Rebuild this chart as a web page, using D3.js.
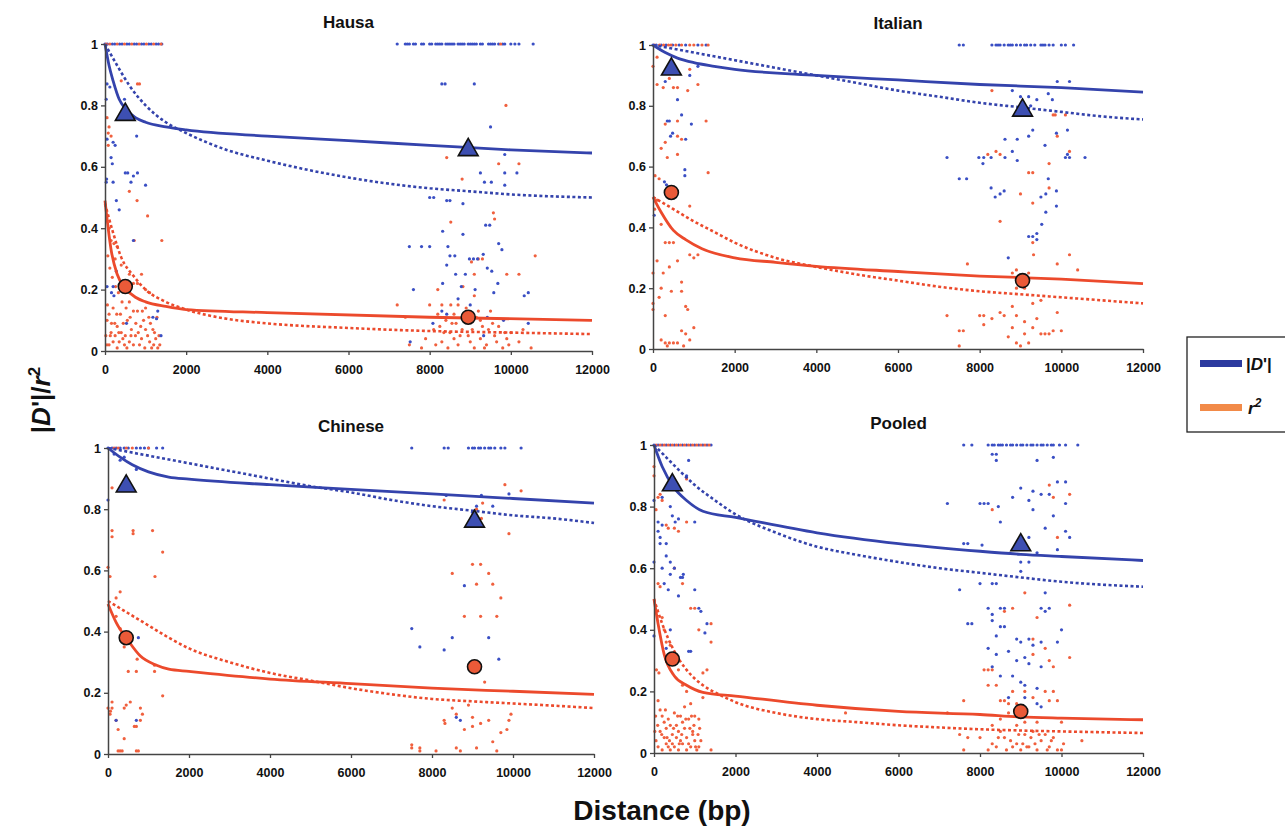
<!DOCTYPE html>
<html>
<head>
<meta charset="utf-8">
<script src="https://cdn.jsdelivr.net/npm/d3@7/dist/d3.min.js"></script>
<style>
  body { margin: 0; background: #fff; }
  svg { font-family: "Liberation Sans", Arial, sans-serif; }
</style>
</head>
<body>
<svg width="1285" height="830"></svg>
<script>
const distTicks = [0, 2000, 4000, 6000, 8000, 10000, 12000];
const ldTicks = [0, 0.2, 0.4, 0.6, 0.8, 1];
const panelNames = ["Hausa", "Italian", "Chinese", "Pooled"];

// fitted curves (solid) and expected decay (dotted), [distance, value]
const hausaDFit = [[0,1],[100,0.93],[200,0.88],[350,0.82],[500,0.79],[750,0.76],[1000,0.745],[1500,0.73],[2000,0.72],[4000,0.70],[6000,0.685],[8000,0.67],[10000,0.655],[12000,0.645]];
const hausaDExp = [[0,1],[300,0.93],[600,0.865],[1000,0.80],[1500,0.745],[2000,0.71],[3000,0.655],[4000,0.62],[5000,0.59],[6000,0.565],[7000,0.545],[8000,0.53],[9000,0.52],[10000,0.51],[12000,0.50]];
const hausaRFit = [[0,0.49],[60,0.42],[150,0.33],[300,0.25],[500,0.205],[750,0.175],[1000,0.16],[1500,0.145],[2000,0.135],[4000,0.125],[8000,0.11],[12000,0.10]];
const hausaRExp = [[0,0.48],[200,0.385],[400,0.305],[700,0.245],[1000,0.20],[1500,0.16],[2000,0.135],[3000,0.105],[4000,0.09],[6000,0.075],[8000,0.065],[10000,0.06],[12000,0.055]];

const italianDFit = [[0,1],[300,0.975],[600,0.957],[1000,0.942],[1500,0.93],[2000,0.92],[4000,0.90],[6000,0.885],[8000,0.87],[10000,0.86],[12000,0.845]];
const italianDExp = [[0,1],[1000,0.975],[2000,0.95],[3000,0.925],[4000,0.90],[5000,0.875],[6000,0.85],[7000,0.83],[8000,0.81],[9000,0.795],[10000,0.78],[11000,0.765],[12000,0.755]];
const italianRFit = [[0,0.50],[200,0.45],[500,0.39],[800,0.36],[1200,0.33],[2000,0.30],[3000,0.285],[4000,0.272],[6000,0.255],[8000,0.24],[10000,0.23],[12000,0.215]];
const italianRExp = [[0,0.50],[500,0.46],[1000,0.42],[1500,0.385],[2000,0.35],[3000,0.30],[4000,0.27],[5000,0.245],[6000,0.225],[7000,0.205],[8000,0.19],[9000,0.18],[10000,0.17],[11000,0.16],[12000,0.15]];

const chineseDFit = [[0,1],[300,0.97],[600,0.945],[1000,0.922],[1500,0.905],[2000,0.898],[4000,0.88],[6000,0.865],[8000,0.85],[10000,0.835],[12000,0.82]];
const chineseDExp = [[0,1],[1000,0.975],[2000,0.95],[3000,0.925],[4000,0.90],[5000,0.875],[6000,0.855],[7000,0.83],[8000,0.81],[9000,0.795],[10000,0.78],[11000,0.77],[12000,0.755]];
const chineseRFit = [[0,0.49],[200,0.43],[500,0.37],[800,0.32],[1200,0.29],[1500,0.277],[2000,0.27],[4000,0.245],[6000,0.23],[8000,0.215],[10000,0.205],[12000,0.195]];
const chineseRExp = [[0,0.50],[500,0.46],[1000,0.42],[1500,0.38],[2000,0.345],[3000,0.30],[4000,0.265],[5000,0.24],[6000,0.215],[7000,0.195],[8000,0.18],[9000,0.172],[10000,0.165],[11000,0.158],[12000,0.15]];

const pooledDFit = [[0,1],[200,0.93],[500,0.86],[800,0.82],[1200,0.785],[2000,0.765],[4000,0.715],[6000,0.68],[8000,0.655],[9000,0.645],[10000,0.638],[12000,0.625]];
const pooledDExp = [[0,1],[300,0.96],[600,0.92],[1000,0.87],[1500,0.82],[2000,0.775],[3000,0.715],[4000,0.67],[5000,0.643],[6000,0.62],[7000,0.60],[8000,0.585],[9000,0.57],[10000,0.556],[12000,0.54]];
const pooledRFit = [[0,0.50],[100,0.42],[250,0.32],[500,0.25],[800,0.22],[1200,0.197],[2000,0.185],[4000,0.155],[6000,0.135],[8000,0.125],[9000,0.117],[10000,0.113],[12000,0.108]];
const pooledRExp = [[0,0.50],[200,0.42],[500,0.33],[800,0.27],[1200,0.22],[1600,0.19],[2000,0.165],[3000,0.13],[4000,0.11],[5000,0.10],[6000,0.09],[7000,0.083],[8000,0.077],[9000,0.073],[10000,0.07],[12000,0.065]];

// highlighted group means
const hausaDMarks = [[500,0.77],[8950,0.655]];
const hausaRMarks = [[500,0.21],[8950,0.11]];
const italianDMarks = [[450,0.92],[9050,0.785]];
const italianRMarks = [[450,0.515],[9050,0.225]];
const chineseDMarks = [[450,0.875],[9050,0.76]];
const chineseRMarks = [[450,0.38],[9050,0.285]];
const pooledDMarks = [[450,0.87],[9000,0.675]];
const pooledRMarks = [[450,0.305],[9000,0.135]];

// pairs with |D'| = 1 (blue) and r2 = 1 (red), distances only
const hausaDTop = [0,60,180,240,360,420,540,600,720,780,900,960,1080,1140,1260,1320,1400,7200,7400,7450,7500,7600,7650,7800,7850,8000,8050,8150,8200,8250,8300,8400,8450,8500,8550,8600,8700,8750,8800,8850,8950,9000,9050,9100,9150,9250,9300,9450,9500,9550,9600,9700,9800,9850,10000,10100,10200,10550];
const hausaRTop = [30,120,300,480,660,840,1020,1200,1380,9750];
const italianDTop = [0,80,200,320,480,640,800,1100,1300,7500,7600,8300,8400,8450,8500,8600,8700,8750,8800,8900,9000,9100,9150,9250,9350,9500,9550,9600,9700,9800,10000,10100,10300];
const italianRTop = [40,160,260,380,440,560,700,900,1000,1200,1350];
const chineseDTop = [0,100,200,300,400,500,700,800,900,1000,1200,1350,7500,8300,8400,8900,9000,9050,9150,9200,9300,9400,9450,9550,9700,9800,10200];
const chineseRTop = [150,250,450,600,1000];
const pooledDTop = [0,100,200,300,400,500,600,700,800,900,1000,1100,1200,1300,1400,7600,7800,8200,8300,8350,8450,8500,8550,8650,8750,8800,8900,9000,9050,9150,9250,9300,9400,9500,9550,9650,9750,9800,9950,10100,10400];
const pooledRTop = [50,150,250,350,450,550,650,750,850,950,1050,1150,1250,1350];

// scattered pairs, [distance, value]
const hausaDPts = [[50,0.87],[120,0.86],[30,0.82],[50,0.69],[200,0.68],[150,0.63],[180,0.61],[250,0.67],[40,0.56],[30,0.55],[200,0.55],[280,0.49],[350,0.46],[500,0.58],[560,0.58],[640,0.55],[700,0.57],[800,0.58],[1000,0.54],[700,0.36],[480,0.82],[780,0.70],[1300,0.13],[1270,0.105],[1380,0.05],[200,0.21],[160,0.19],[50,0.21],[280,0.26],[530,0.09],[1180,0.11],[220,0.18],
  [8300,0.87],[8380,0.87],[9100,0.87],[9500,0.73],[9850,0.64],[9250,0.58],[9350,0.55],[9520,0.55],[9850,0.58],[10150,0.58],[9850,0.54],[8000,0.50],[8100,0.50],[8420,0.49],[8500,0.49],[8820,0.48],[8320,0.39],[8820,0.38],[7500,0.34],[7800,0.34],[8000,0.34],[8450,0.34],[9380,0.41],[9480,0.41],[9700,0.35],[9780,0.33],[8500,0.31],[8620,0.31],[8980,0.30],[9080,0.30],[9180,0.30],[8420,0.28],[8640,0.25],[8880,0.25],[9320,0.315],[9420,0.27],[9530,0.26],[9680,0.22],[8320,0.22],[8780,0.21],[7600,0.20],[9120,0.20],[9580,0.19],[10430,0.19],[10330,0.18],[8080,0.09],[8300,0.13],[8420,0.12],[9420,0.11],[9820,0.10],[10430,0.09],[7520,0.03],[9330,0.05],[8700,0.17],[9000,0.15]];
const hausaRPts = [[50,0.76],[100,0.73],[80,0.71],[150,0.70],[80,0.67],[400,0.88],[800,0.87],[850,0.87],[600,0.52],[790,0.49],[1050,0.44],[720,0.36],[1400,0.36],[100,0.40],[150,0.36],[220,0.35],[300,0.34],[250,0.30],[400,0.28],[600,0.25],[700,0.22],[800,0.22],[900,0.25],[1000,0.20],[1100,0.19],[1000,0.14],[800,0.13],[700,0.13],[200,0.14],[100,0.12],[50,0.10],[300,0.08],[400,0.06],[500,0.05],[600,0.03],[200,0.03],[100,0.02],[300,0.01],[700,0.02],[900,0.04],[1000,0.07],[1100,0.03],[1200,0.02],[1300,0.01],[1350,0.02],[150,0.06],[250,0.05],[450,0.09],[550,0.10],[650,0.07],[750,0.05],[850,0.02],[950,0.10],[1050,0.05],[1150,0.01],[50,0.02],[350,0.03],[20,0.05],[480,0.02],[620,0.11],[880,0.08],[1250,0.04],[380,0.12],[160,0.09],
  [70,0.31],[120,0.27],[180,0.24],[260,0.21],[330,0.19],[420,0.16],[520,0.14],[600,0.16],[760,0.09],[920,0.13],[1120,0.09],[1220,0.06],[1330,0.05],[60,0.15],[240,0.09],[340,0.06],[440,0.04],[540,0.01],[640,0.05],[820,0.06],[980,0.01],[1080,0.11],[1180,0.07],[1280,0.11],[130,0.05],[290,0.12],
  [9880,0.80],[8420,0.63],[9700,0.61],[10200,0.61],[8800,0.56],[9570,0.45],[9600,0.43],[8520,0.42],[10600,0.31],[9200,0.30],[9300,0.30],[9030,0.29],[9900,0.25],[10200,0.25],[9100,0.25],[8820,0.21],[8200,0.20],[9100,0.18],[7200,0.15],[8000,0.15],[8300,0.15],[8520,0.15],[8700,0.15],[8900,0.14],[9200,0.13],[9500,0.13],[8200,0.12],[8600,0.12],[7400,0.11],[8400,0.10],[9020,0.10],[9300,0.08],[9700,0.08],[8100,0.07],[8500,0.06],[8800,0.07],[9600,0.05],[9900,0.04],[10200,0.03],[8300,0.03],[8700,0.02],[9100,0.01],[9400,0.02],[9800,0.01],[7500,0.02],[7800,0.01],[8600,0.04],[9000,0.03],[10500,0.01],[10000,0.06],[7900,0.04],[8950,0.05],[9250,0.04],[8250,0.08],[9450,0.07],[10300,0.07],[8650,0.09],[9150,0.11],
  [8150,0.02],[8450,0.01],[8750,0.05],[9050,0.07],[9350,0.01],[9650,0.03],[9950,0.02],[8350,0.06],[8550,0.09],[8850,0.12],[9250,0.10],[9550,0.09],[9850,0.06]];

const italianDPts = [[300,0.88],[350,0.75],[400,0.75],[430,0.70],[480,0.71],[600,0.82],[700,0.77],[780,0.59],[780,0.57],[900,0.90],[940,0.74],[800,0.69],[280,0.55],[330,0.54],[1100,0.93],[30,0.44],
  [7200,0.63],[7500,0.56],[7680,0.56],[7980,0.63],[8080,0.61],[8100,0.63],[8280,0.63],[8280,0.53],[8380,0.50],[8500,0.51],[8600,0.52],[8620,0.69],[8620,0.63],[8800,0.65],[8920,0.69],[8920,0.62],[8800,0.85],[9000,0.83],[9200,0.83],[9300,0.72],[9200,0.70],[9400,0.82],[9600,0.67],[9680,0.84],[9780,0.82],[9880,0.71],[10150,0.72],[10100,0.63],[10200,0.63],[10580,0.63],[9900,0.88],[10200,0.88],[9680,0.56],[9620,0.51],[9620,0.45],[9520,0.41],[9880,0.52],[9880,0.47],[9300,0.37],[9200,0.37],[9400,0.38],[9400,0.36],[8700,0.30],[9500,0.50],[9250,0.80],[10150,0.64]];
const italianRPts = [[0,0.93],[100,0.96],[50,0.57],[150,0.56],[100,0.87],[250,0.86],[300,0.74],[400,0.89],[500,0.86],[600,0.86],[600,0.75],[600,0.70],[600,0.64],[700,0.69],[850,0.85],[900,0.92],[1100,0.87],[1300,0.75],[1350,0.58],[200,0.66],[350,0.63],[300,0.68],[900,0.47],[100,0.49],[200,0.41],[300,0.35],[400,0.35],[500,0.35],[600,0.29],[700,0.22],[700,0.19],[100,0.29],[0,0.25],[0,0.15],[0,0.13],[150,0.17],[200,0.20],[300,0.11],[400,0.27],[450,0.19],[800,0.14],[850,0.13],[900,0.31],[1000,0.30],[1100,0.31],[700,0.06],[800,0.05],[900,0.03],[1000,0.07],[300,0.02],[400,0.02],[500,0.02],[600,0.02],[200,0.03],[750,0.01],[350,0.01],[40,0.46],[250,0.25],
  [8300,0.85],[7700,0.28],[8200,0.64],[8400,0.65],[8500,0.64],[8500,0.42],[9000,0.51],[9200,0.58],[9300,0.58],[9300,0.48],[9700,0.61],[9700,0.53],[9800,0.77],[9850,0.77],[10100,0.77],[10200,0.65],[9900,0.70],[10400,0.26],[10200,0.31],[9900,0.28],[9900,0.12],[9300,0.35],[9320,0.31],[8800,0.25],[8900,0.26],[9200,0.25],[7200,0.11],[7500,0.06],[7600,0.06],[8000,0.11],[8100,0.08],[8100,0.11],[8300,0.10],[8500,0.12],[8600,0.11],[8700,0.04],[8800,0.07],[8800,0.14],[8900,0.02],[9000,0.01],[9100,0.05],[9200,0.02],[9300,0.07],[9400,0.10],[9500,0.05],[9600,0.05],[9700,0.05],[9800,0.06],[10000,0.06],[7500,0.01],[8900,0.11],[9100,0.09],[9300,0.15],[9500,0.16],[9100,0.20],[8900,0.20]];

const chineseDPts = [[0,0.83],[200,0.11],[700,0.11],[750,0.38],[300,0.96],[400,0.97],[700,0.93],[150,0.98],
  [7500,0.41],[7700,0.35],[8300,0.34],[8500,0.38],[8800,0.55],[9400,0.38],[9650,0.31],[8600,0.12],[8700,0.11],[9100,0.81],[9220,0.845],[9500,0.81],[9900,0.85],[9000,0.79],[8350,0.845]];
const chineseRPts = [[0,0.61],[50,0.58],[100,0.87],[100,0.73],[100,0.71],[200,0.51],[300,0.53],[620,0.73],[620,0.72],[1100,0.73],[1160,0.58],[1350,0.66],[200,0.45],[300,0.41],[400,0.35],[500,0.37],[500,0.27],[700,0.27],[720,0.31],[1150,0.29],[1150,0.27],[1350,0.19],[100,0.17],[100,0.15],[0,0.15],[50,0.13],[200,0.11],[250,0.08],[400,0.05],[400,0.15],[450,0.16],[550,0.17],[650,0.09],[700,0.09],[800,0.11],[800,0.15],[850,0.13],[250,0.01],[300,0.01],[350,0.01],[750,0.01],[700,0.01],[60,0.14],
  [8300,0.83],[8500,0.59],[9000,0.62],[9200,0.62],[9100,0.555],[9400,0.59],[9500,0.555],[9700,0.51],[8800,0.45],[9200,0.45],[9600,0.45],[9800,0.88],[9900,0.72],[10200,0.86],[9300,0.235],[9950,0.13],[9900,0.11],[9850,0.08],[9700,0.07],[9500,0.04],[9400,0.11],[9200,0.10],[9000,0.12],[9000,0.09],[8800,0.08],[8900,0.16],[8500,0.15],[8600,0.13],[8300,0.11],[8320,0.10],[8700,0.01],[8600,0.02],[9100,0.02],[9600,0.01],[7500,0.03],[7500,0.02],[7700,0.02],[7700,0.01],[8100,0.01],[9100,0.80],[9220,0.77],[9250,0.82]];

const pooledDPts = [[0,0.82],[0,0.62],[0,0.38],[100,0.75],[100,0.72],[150,0.70],[150,0.68],[200,0.74],[200,0.60],[250,0.55],[300,0.68],[300,0.64],[350,0.53],[400,0.80],[400,0.62],[450,0.77],[500,0.60],[520,0.75],[600,0.76],[650,0.57],[700,0.57],[720,0.58],[800,0.90],[850,0.95],[900,0.33],[850,0.33],[1000,0.53],[1100,0.47],[1150,0.46],[1250,0.39],[1300,0.42],[400,0.40],[300,0.34],[400,0.58],[1000,0.75],[600,0.51],[200,0.83],[300,0.86],
  [7200,0.81],[7500,0.53],[7700,0.42],[7800,0.42],[8000,0.81],[8100,0.81],[8200,0.81],[8300,0.55],[8400,0.55],[8450,0.80],[8500,0.75],[8300,0.97],[8400,0.97],[8400,0.95],[8800,0.83],[9000,0.86],[9200,0.82],[9300,0.85],[9400,0.95],[9500,0.84],[9700,0.84],[9800,0.96],[9900,0.88],[10100,0.88],[10100,0.81],[9300,0.79],[9600,0.73],[9200,0.70],[9800,0.77],[10100,0.72],[9200,0.62],[9000,0.62],[9400,0.65],[9000,0.59],[9900,0.66],[10200,0.70],[8200,0.47],[8300,0.45],[8500,0.47],[8600,0.47],[8300,0.43],[8400,0.38],[8500,0.41],[8600,0.41],[8900,0.37],[9000,0.36],[9200,0.37],[9300,0.35],[9500,0.47],[9600,0.46],[9700,0.47],[9500,0.36],[9900,0.36],[10000,0.40],[8200,0.34],[8400,0.32],[8700,0.33],[8900,0.30],[9100,0.31],[9200,0.29],[9500,0.28],[8300,0.28],[8500,0.25],[8800,0.25],[9000,0.23],[9100,0.22],[9400,0.21],[8700,0.18],[9400,0.16],[9500,0.15],[9100,0.18],[7600,0.68],[7700,0.68],[8050,0.675],[8000,0.55],[9600,0.52]];
const pooledRPts = [[0,0.93],[0,0.90],[50,0.79],[100,0.83],[150,0.84],[200,0.82],[300,0.74],[350,0.73],[400,0.86],[500,0.60],[500,0.73],[600,0.72],[700,0.55],[800,0.75],[800,0.89],[900,0.47],[1000,0.47],[1100,0.40],[1200,0.26],[1300,0.27],[1400,0.36],[1400,0.42],[1200,0.18],[100,0.55],[150,0.54],[200,0.44],[250,0.40],[300,0.36],[400,0.35],[500,0.30],[600,0.27],[700,0.22],[800,0.20],[900,0.16],[1000,0.12],[1100,0.11],[100,0.17],[150,0.14],[200,0.12],[250,0.10],[300,0.08],[350,0.11],[400,0.09],[450,0.06],[500,0.13],[550,0.05],[600,0.07],[650,0.04],[700,0.10],[750,0.08],[800,0.05],[850,0.03],[900,0.02],[950,0.06],[1000,0.04],[1050,0.01],[1100,0.02],[50,0.04],[100,0.02],[200,0.01],[300,0.03],[400,0.01],[500,0.02],[600,0.01],[700,0.03],[800,0.01],[1400,0.01],[150,0.07],[250,0.05],[350,0.02],[450,0.03],[550,0.09],[650,0.12],[750,0.15],[850,0.11],[950,0.07],[60,0.27],[120,0.26],
  [40,0.12],[90,0.09],[190,0.06],[280,0.14],[380,0.04],[480,0.08],[580,0.12],[680,0.06],[780,0.11],[880,0.08],[980,0.09],[1080,0.06],[1150,0.04],[20,0.07],[320,0.05],[620,0.03],[920,0.12],[1020,0.02],[1120,0.08],
  [8300,0.79],[9700,0.87],[9800,0.83],[9900,0.70],[10200,0.84],[10200,0.48],[9400,0.44],[8800,0.47],[8600,0.46],[9100,0.52],[9300,0.37],[9600,0.34],[9800,0.28],[10200,0.31],[9300,0.32],[9700,0.30],[8100,0.27],[8200,0.27],[8300,0.27],[8200,0.22],[8400,0.22],[8800,0.20],[9100,0.20],[9300,0.18],[9600,0.20],[9800,0.20],[9700,0.17],[9900,0.17],[7600,0.17],[8500,0.17],[8600,0.17],[8700,0.16],[8900,0.16],[7200,0.13],[8700,0.13],[4700,0.13],[7500,0.06],[7700,0.05],[8000,0.05],[8300,0.03],[8400,0.02],[8600,0.05],[8800,0.02],[8900,0.03],[9000,0.01],[9200,0.02],[9400,0.01],[9500,0.04],[9600,0.06],[9700,0.02],[9900,0.01],[10000,0.01],[8500,0.07],[9100,0.06],[9300,0.07],[9800,0.05],[8300,0.09],[8500,0.11],[8900,0.09],[9100,0.10],[9400,0.10],[10000,0.10],[10500,0.04],[7600,0.01],[8200,0.01],
  [8650,0.01],[8750,0.04],[9050,0.03],[9150,0.02],[9250,0.05],[9350,0.03],[9450,0.06],[9650,0.01],[9750,0.04],[10050,0.03],[8450,0.05],[8950,0.06]];

const legendLabels = ["|D'|", "r2"];

const panels = [
  { name: panelNames[0], dFit: hausaDFit, dExp: hausaDExp, rFit: hausaRFit, rExp: hausaRExp, dMarks: hausaDMarks, rMarks: hausaRMarks, dTop: hausaDTop, rTop: hausaRTop, dPts: hausaDPts, rPts: hausaRPts, left: 105, right: 592, top: 44, bottom: 351 },
  { name: panelNames[1], dFit: italianDFit, dExp: italianDExp, rFit: italianRFit, rExp: italianRExp, dMarks: italianDMarks, rMarks: italianRMarks, dTop: italianDTop, rTop: italianRTop, dPts: italianDPts, rPts: italianRPts, left: 653, right: 1143, top: 45, bottom: 349 },
  { name: panelNames[2], dFit: chineseDFit, dExp: chineseDExp, rFit: chineseRFit, rExp: chineseRExp, dMarks: chineseDMarks, rMarks: chineseRMarks, dTop: chineseDTop, rTop: chineseRTop, dPts: chineseDPts, rPts: chineseRPts, left: 108, right: 594, top: 448, bottom: 754 },
  { name: panelNames[3], dFit: pooledDFit, dExp: pooledDExp, rFit: pooledRFit, rExp: pooledRExp, dMarks: pooledDMarks, rMarks: pooledRMarks, dTop: pooledDTop, rTop: pooledRTop, dPts: pooledDPts, rPts: pooledRPts, left: 654, right: 1143, top: 445, bottom: 753 }
];

const blue = "#3443ac";
const red = "#ec4a2c";
const ptBlue = "#3a4fc4";
const ptRed = "#f0603e";

const svg = d3.select("svg");

panels.forEach(p => {
  const x = d3.scaleLinear().domain([0, 12000]).range([p.left, p.right]);
  const y = d3.scaleLinear().domain([0, 1]).range([p.bottom, p.top]);
  const g = svg.append("g");

  // scatter
  const pts = [];
  p.dTop.forEach(v => pts.push({ d: v, v: 1, c: ptBlue }));
  p.rTop.forEach(v => pts.push({ d: v, v: 1, c: ptRed }));
  p.rPts.forEach(v => pts.push({ d: v[0], v: v[1], c: ptRed }));
  p.dPts.forEach(v => pts.push({ d: v[0], v: v[1], c: ptBlue }));

  g.selectAll(".pt")
    .data(pts)
    .enter()
    .append("circle")
    .attr("cx", d => x(d.d))
    .attr("cy", d => y(d.v))
    .attr("r", 1.6)
    .attr("fill", d => d.c);

  const line = d3.line()
    .x(d => x(d[0]))
    .y(d => y(d[1]))
    .curve(d3.curveMonotoneX);

  // expected decay, dotted
  [[p.dExp, blue], [p.rExp, red]].forEach(([data, col]) => {
    g.append("path")
      .attr("d", line(data))
      .attr("fill", "none")
      .attr("stroke", col)
      .attr("stroke-width", 2.6)
      .attr("stroke-dasharray", "3,2.5");
  });

  // fitted curves
  [[p.dFit, blue], [p.rFit, red]].forEach(([data, col]) => {
    g.append("path")
      .attr("d", line(data))
      .attr("fill", "none")
      .attr("stroke", col)
      .attr("stroke-width", 2.8);
  });

  // axes
  const yAxis = g.append("g")
    .attr("transform", "translate(" + p.left + ",0)")
    .call(d3.axisLeft(y).tickValues(ldTicks).tickFormat(d3.format("~g")).tickSize(4).tickSizeOuter(0));
  const xAxis = g.append("g")
    .attr("transform", "translate(0," + p.bottom + ")")
    .call(d3.axisBottom(x).tickValues(distTicks).tickFormat(d3.format("d")).tickSize(4).tickSizeOuter(0));

  [xAxis, yAxis].forEach(a => {
    a.select(".domain").attr("stroke", "#444").attr("stroke-width", 1.5);
    a.selectAll(".tick line").attr("stroke", "#444").attr("stroke-width", 1.3);
    a.selectAll("text")
      .attr("font-family", "Liberation Sans, Arial, sans-serif")
      .attr("font-size", "12.5px")
      .attr("font-weight", "bold")
      .attr("fill", "#111");
  });
  xAxis.selectAll("text").attr("dy", "1.25em");
  yAxis.selectAll("text").attr("x", -7);

  // group markers
  g.selectAll(".tri")
    .data(p.dMarks)
    .enter()
    .append("path")
    .attr("d", d3.symbol(d3.symbolTriangle, 170)())
    .attr("transform", d => "translate(" + x(d[0]) + "," + y(d[1]) + ")")
    .attr("fill", "#3d4fb2")
    .attr("stroke", "#111")
    .attr("stroke-width", 1.6);

  g.selectAll(".dot")
    .data(p.rMarks)
    .enter()
    .append("circle")
    .attr("cx", d => x(d[0]))
    .attr("cy", d => y(d[1]))
    .attr("r", 7)
    .attr("fill", "#ea5a38")
    .attr("stroke", "#111")
    .attr("stroke-width", 1.6);

  g.append("text")
    .attr("x", (p.left + p.right) / 2)
    .attr("y", p.top - 16)
    .attr("text-anchor", "middle")
    .attr("font-size", "17px")
    .attr("font-weight", "bold")
    .attr("fill", "#111")
    .text(p.name);
});

// axis titles
const yTitle = svg.append("text")
  .attr("transform", "translate(50,400) rotate(-90)")
  .attr("text-anchor", "middle")
  .attr("font-size", "26px")
  .attr("font-weight", "bold")
  .attr("fill", "#111");
yTitle.append("tspan").text("|");
yTitle.append("tspan").attr("font-style", "italic").text("D");
yTitle.append("tspan").text("'|/");
yTitle.append("tspan").attr("font-style", "italic").text("r");
yTitle.append("tspan").attr("font-size", "17px").attr("dy", -10).text("2");

svg.append("text")
  .attr("x", 662)
  .attr("y", 820)
  .attr("text-anchor", "middle")
  .attr("font-size", "28px")
  .attr("font-weight", "bold")
  .attr("fill", "#111")
  .text("Distance (bp)");

// legend
const leg = svg.append("g");
leg.append("rect")
  .attr("x", 1187).attr("y", 337)
  .attr("width", 120).attr("height", 95)
  .attr("fill", "#fff")
  .attr("stroke", "#222")
  .attr("stroke-width", 1.3);

leg.append("rect").attr("x", 1200).attr("y", 360).attr("width", 42).attr("height", 7).attr("fill", "#2c3a9f");
leg.append("rect").attr("x", 1200).attr("y", 404).attr("width", 42).attr("height", 7).attr("fill", "#f28a48");

const l1 = leg.append("text").attr("x", 1246).attr("y", 370).attr("font-size", "17px").attr("font-weight", "bold").attr("fill", "#111");
l1.append("tspan").text("|");
l1.append("tspan").attr("font-style", "italic").text("D");
l1.append("tspan").text("'|");

const l2 = leg.append("text").attr("x", 1248).attr("y", 414).attr("font-size", "17px").attr("font-weight", "bold").attr("font-style", "italic").attr("fill", "#111");
l2.append("tspan").text(legendLabels[1].charAt(0));
l2.append("tspan").attr("font-size", "12px").attr("dy", -7).text(legendLabels[1].charAt(1));
</script>
</body>
</html>
